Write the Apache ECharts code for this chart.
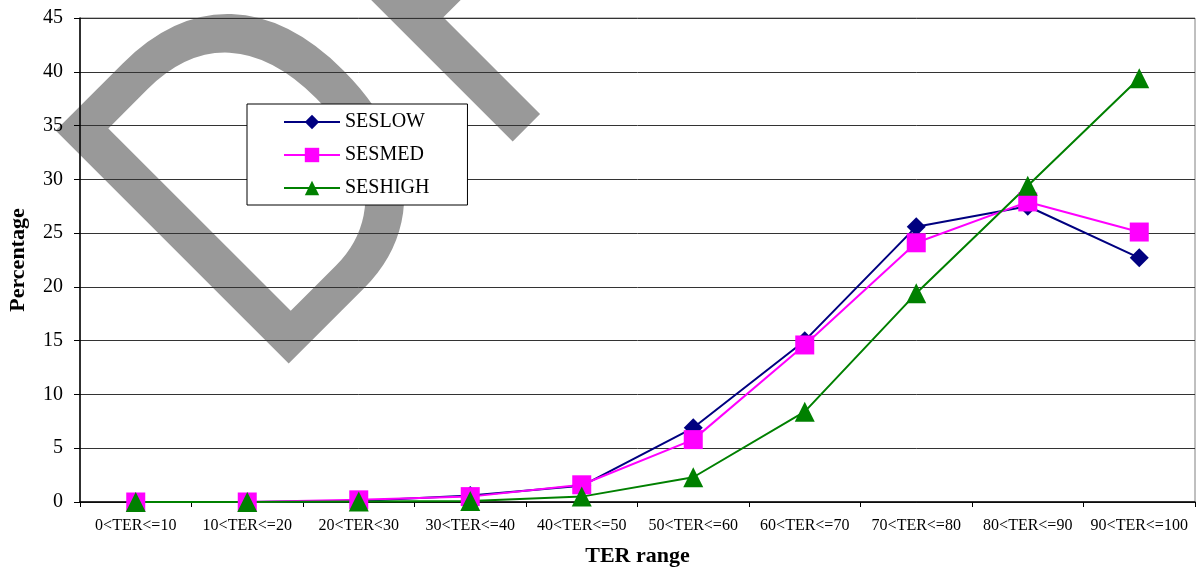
<!DOCTYPE html>
<html>
<head>
<meta charset="utf-8">
<script src="https://cdn.jsdelivr.net/npm/echarts@6/dist/echarts.min.js"></script>
<style>
  html, body { margin: 0; padding: 0; background: #fff; }
  #chart { width: 1197px; height: 572px; }
</style>
</head>
<body>
<div id="chart"></div>
<script>
// TER range buckets along the x axis
const categories = ['0<TER<=10', '10<TER<=20', '20<TER<30', '30<TER<=40', '40<TER<=50',
                    '50<TER<=60', '60<TER<=70', '70<TER<=80', '80<TER<=90', '90<TER<=100'];

// Percentage of students per bucket, by SES group
const sesLow  = [0, 0, 0.1, 0.6, 1.5, 6.9, 15.0, 25.6, 27.5, 22.7];
const sesMed  = [0, 0, 0.2, 0.5, 1.6, 5.8, 14.6, 24.1, 27.9, 25.1];
const sesHigh = [0, 0, 0.05, 0.1, 0.5, 2.3, 8.4, 19.4, 29.4, 39.4];

const seriesNames = ['SESLOW', 'SESMED', 'SESHIGH'];
const seriesColors = ['#000080', '#FF00FF', '#008000'];

const serif = '"Liberation Serif", "Times New Roman", serif';

// Diagonal "DRAFT" stamp behind the plot: glyph size, squeeze along the
// writing direction, and baseline-left anchor of each piece
const stampFont = 479;
const stampSqueeze = 0.867;
const stampPieces = [
  { text: 'D', x: 265, y: 388 },
  { text: 'RAFT', x: 489, y: 166 }
];

function stampText(piece) {
  return {
    type: 'text',
    z: -10,
    x: piece.x,
    y: piece.y,
    rotation: Math.PI / 4,
    scaleX: stampSqueeze,
    scaleY: 1,
    silent: true,
    style: {
      text: piece.text,
      x: 0,
      y: -0.277 * stampFont,
      fontSize: stampFont,
      fontFamily: '"Liberation Sans", Arial, sans-serif',
      fill: '#999999',
      align: 'left',
      verticalAlign: 'middle'
    }
  };
}

const chart = echarts.init(document.getElementById('chart'), null, { renderer: 'canvas' });

function lineSeries(name, data, color, symbol, size) {
  return {
    name: name,
    type: 'line',
    data: data,
    symbol: symbol,
    symbolSize: size,
    showSymbol: true,
    lineStyle: { color: color, width: 2 },
    itemStyle: { color: color },
    emphasis: { disabled: true },
    animation: false
  };
}

chart.setOption({
  backgroundColor: '#ffffff',
  animation: false,
  graphic: stampPieces.map(stampText),
  grid: {
    left: 80, right: 2, top: 18, bottom: 70,
    outerBoundsMode: 'none',
    containLabel: false,
    show: true, borderColor: '#808080', borderWidth: 1, backgroundColor: 'transparent'
  },
  legend: {
    orient: 'vertical',
    left: 247,
    top: 104,
    padding: [8, 38, 7, 36],
    itemGap: 13,
    itemWidth: 56,
    itemHeight: 18,
    backgroundColor: '#ffffff',
    borderColor: '#000000',
    borderWidth: 1,
    borderRadius: 0,
    selectedMode: false,
    textStyle: { fontFamily: serif, fontSize: 20, color: '#000', padding: [0, 0, 0, 0] },
    data: seriesNames
  },
  xAxis: {
    type: 'category',
    data: categories,
    boundaryGap: true,
    name: 'TER range',
    nameLocation: 'middle',
    nameGap: 43,
    nameTextStyle: { fontFamily: serif, fontSize: 22, fontWeight: 'bold', color: '#000' },
    axisLine: { lineStyle: { color: '#000', width: 1.5 } },
    axisTick: { show: true, length: 5, lineStyle: { color: '#000' } },
    axisLabel: { fontFamily: serif, fontSize: 16, color: '#000', margin: 16, interval: 0 },
    splitLine: { show: false }
  },
  yAxis: {
    type: 'value',
    min: 0,
    max: 45,
    interval: 5,
    name: 'Percentage',
    nameLocation: 'middle',
    nameGap: 51,
    nameTextStyle: { fontFamily: serif, fontSize: 22, fontWeight: 'bold', color: '#000' },
    axisLine: { show: true, lineStyle: { color: '#000', width: 1.5 } },
    axisTick: { show: true, length: 6, lineStyle: { color: '#000' } },
    axisLabel: { fontFamily: serif, fontSize: 20, color: '#000', margin: 17 },
    splitLine: { show: true, lineStyle: { color: '#333', width: 1 } }
  },
  series: [
    lineSeries(seriesNames[0], sesLow, seriesColors[0], 'diamond', 19),
    lineSeries(seriesNames[1], sesMed, seriesColors[1], 'rect', 19),
    lineSeries(seriesNames[2], sesHigh, seriesColors[2], 'triangle', 20)
  ]
});
</script>
</body>
</html>
